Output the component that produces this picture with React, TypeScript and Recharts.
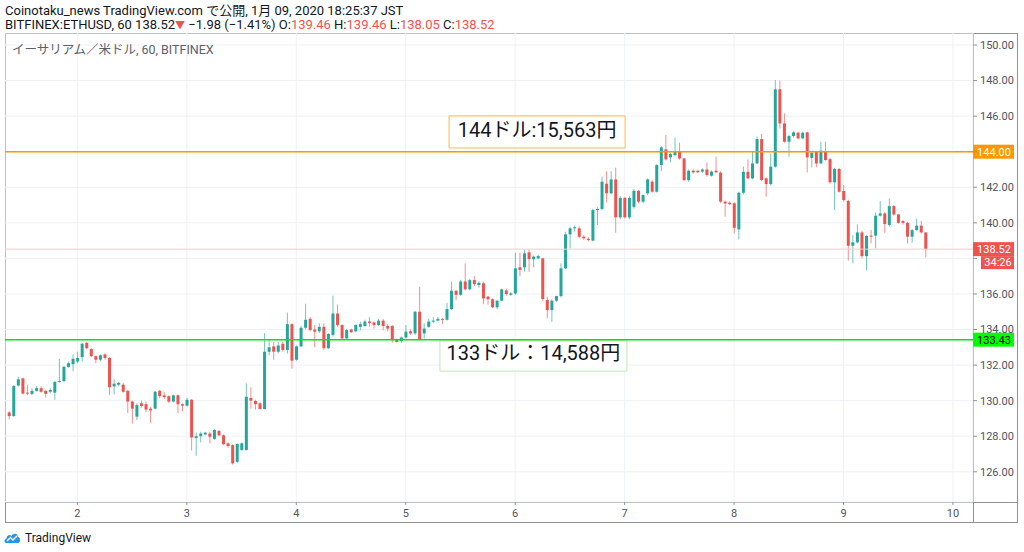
import React from 'react';
import {
  ComposedChart,
  Bar,
  XAxis,
  YAxis,
  CartesianGrid,
  ReferenceLine,
  ReferenceArea,
} from 'recharts';

// hourly ETHUSD candles, index 0 = Jan 1 09:00
const opens = [
  129.34, 129.13, 130.85, 131.25, 130.45, 130.38, 130.55, 130.7, 130.55, 130.5,
  130.45, 131.05, 131.1, 131.9, 132.05, 132.2, 132.45, 133.25, 132.9, 132.5,
  132.3, 132.6, 132.4, 130.8, 130.9, 130.9, 130.55, 129.95, 129.1, 129.85,
  129.8, 129.55, 129.55, 130.55, 130.3, 130.25, 129.95, 130.3, 129.8, 129.72,
  130.05, 127.9, 128.0, 128.1, 128.15, 127.85, 128.3, 128.05, 127.6, 127.5,
  126.56, 127.22, 127.22, 130.15, 129.98, 129.85, 129.53, 132.75, 133.05, 132.75,
  133.2, 132.85, 134.3, 132.3, 133.05, 134.1, 134.6, 134.0, 133.9, 134.15,
  132.95, 133.7, 134.9, 134.25, 133.5, 134.0, 133.9, 134.15, 134.2, 134.45,
  134.4, 134.25, 134.5, 134.2, 134.2, 133.45, 133.35, 133.55, 133.9, 133.78,
  135.0, 133.78, 134.15, 134.45, 134.5, 134.6, 134.55, 135.15, 136.18, 135.95,
  136.7, 136.26, 136.78, 136.5, 136.6, 135.85, 135.7, 135.25, 135.62, 136.2,
  135.95, 136.03, 137.5, 137.5, 138.34, 137.95, 138.0, 138.0, 135.66, 135.09,
  135.62, 135.88, 137.44, 139.35, 139.69, 139.69, 139.22, 139.1, 139.0, 140.72,
  140.78, 142.2, 141.66, 142.44, 140.31, 141.4, 140.31, 140.9, 141.8, 141.19,
  141.66, 142.31, 141.75, 143.25, 144.13, 143.68, 143.81, 144.0, 143.62, 142.4,
  142.93, 142.93, 142.88, 143.0, 142.65, 142.93, 142.82, 141.19, 141.13, 141.1,
  139.63, 141.69, 142.87, 142.5, 143.34, 144.71, 142.5, 142.18, 143.16, 147.51,
  145.59, 144.56, 144.88, 145.07, 144.75, 145.09, 143.65, 143.99, 143.34, 144.0,
  143.58, 142.28, 143.03, 141.79, 141.23, 138.71, 138.9, 139.46, 138.13, 139.28,
  139.28, 140.4, 140.53, 139.88, 140.94, 140.47, 140.1, 140.0, 139.22, 139.59,
  139.84, 139.46,
];
const highs = [
  129.4, 130.88, 131.35, 131.3, 130.9, 130.7, 130.82, 130.8, 130.6, 130.7,
  131.1, 132.35, 131.95, 132.2, 132.6, 132.75, 133.25, 133.3, 132.95, 132.55,
  132.6, 132.65, 132.45, 131.2, 131.05, 131.0, 130.6, 130.0, 129.85, 130.0,
  129.95, 129.65, 130.55, 130.6, 130.5, 130.3, 130.35, 130.35, 129.85, 130.15,
  130.1, 128.2, 128.25, 128.25, 128.25, 128.4, 128.35, 128.1, 127.65, 127.55,
  127.6, 127.65, 130.97, 130.75, 130.05, 129.9, 133.8, 133.4, 133.3, 133.3,
  133.3, 134.95, 134.35, 133.1, 134.2, 135.45, 134.7, 134.25, 134.35, 134.35,
  133.8, 135.9, 135.4, 134.3, 134.05, 134.05, 134.3, 134.45, 134.55, 134.7,
  134.45, 134.6, 134.6, 134.3, 134.25, 133.5, 133.6, 134.25, 134.0, 135.05,
  136.4, 134.35, 134.6, 134.7, 134.7, 134.65, 135.5, 136.7, 136.2, 136.8,
  137.72, 136.85, 137.0, 136.7, 136.7, 135.9, 135.75, 135.65, 136.3, 136.3,
  136.1, 138.32, 138.32, 138.47, 138.5, 138.15, 138.2, 138.05, 135.85, 135.7,
  135.9, 137.72, 139.5, 139.78, 139.85, 139.8, 139.3, 139.2, 140.8, 140.87,
  142.6, 142.9, 142.9, 143.1, 141.5, 141.45, 141.5, 141.9, 141.85, 141.6,
  142.5, 142.4, 143.3, 144.32, 144.94, 143.95, 144.8, 144.5, 143.65, 143.0,
  143.0, 142.98, 143.05, 143.4, 142.95, 143.72, 142.9, 141.25, 141.2, 141.15,
  141.75, 143.16, 143.57, 144.0, 144.84, 144.99, 142.55, 143.9, 148.03, 148.0,
  146.15, 144.95, 145.15, 145.12, 145.12, 145.12, 144.0, 144.05, 144.56, 144.56,
  143.66, 143.1, 143.08, 142.12, 141.3, 139.3, 139.91, 139.55, 139.3, 139.6,
  140.59, 141.23, 140.6, 141.38, 141.0, 140.5, 140.15, 140.05, 139.65, 140.25,
  140.1, 139.46,
];
const lows = [
  128.95, 129.1, 130.8, 130.35, 130.3, 130.3, 130.5, 130.45, 130.17, 130.4,
  130.05, 131.0, 131.05, 131.85, 131.65, 132.1, 132.2, 132.9, 132.45, 132.1,
  132.2, 132.3, 130.3, 130.35, 130.8, 130.45, 129.3, 128.7, 128.9, 129.6,
  129.35, 128.75, 129.5, 130.15, 130.1, 129.85, 129.9, 129.3, 129.4, 129.65,
  127.2, 126.9, 127.65, 128.05, 127.6, 127.8, 128.0, 127.5, 127.35, 126.4,
  126.5, 127.2, 127.2, 129.55, 129.5, 129.5, 129.5, 132.55, 132.3, 132.65,
  132.75, 132.65, 131.8, 132.25, 133.0, 134.0, 133.9, 133.0, 133.8, 132.85,
  132.9, 133.6, 134.15, 133.45, 133.45, 133.8, 133.85, 133.95, 134.15, 134.15,
  134.05, 134.2, 133.95, 133.9, 133.25, 133.25, 133.25, 133.5, 133.7, 133.7,
  133.4, 133.5, 134.1, 134.35, 134.45, 134.3, 134.5, 135.1, 135.65, 135.9,
  136.2, 136.2, 136.45, 136.35, 135.43, 135.4, 135.2, 135.15, 135.6, 135.9,
  135.9, 135.95, 137.0, 137.25, 137.25, 137.5, 137.95, 135.6, 134.63, 134.44,
  135.55, 135.8, 137.4, 138.56, 139.5, 139.15, 139.05, 138.95, 138.95, 139.875,
  140.7, 141.15, 141.6, 139.44, 140.2, 140.25, 140.2, 140.8, 141.1, 141.1,
  141.55, 141.7, 141.7, 142.9, 143.5, 143.4, 143.75, 143.55, 142.35, 142.3,
  142.75, 142.8, 142.8, 142.6, 142.6, 142.8, 141.1, 140.34, 141.0, 139.4,
  139.07, 141.6, 142.45, 142.45, 143.3, 142.35, 141.47, 142.1, 143.1, 145.3,
  144.5, 143.72, 144.8, 144.7, 144.7, 142.84, 143.12, 143.12, 143.3, 143.5,
  142.2, 140.72, 141.7, 141.2, 137.87, 137.72, 138.85, 138.0, 137.34, 138.85,
  138.56, 140.35, 139.44, 139.8, 140.4, 139.95, 139.9, 138.84, 138.88, 139.55,
  139.4, 138.05,
];
const closes = [
  129.13, 130.82, 131.2, 130.4, 130.4, 130.55, 130.7, 130.5, 130.38, 130.6,
  131.05, 131.1, 131.9, 132.1, 132.35, 132.4, 133.2, 132.95, 132.5, 132.3,
  132.55, 132.4, 130.75, 130.95, 131.0, 130.5, 129.95, 129.55, 129.75, 129.7,
  129.5, 129.45, 130.5, 130.25, 130.2, 129.95, 130.3, 129.8, 129.72, 130.05,
  127.93, 128.0, 128.15, 128.2, 127.97, 128.35, 128.05, 127.55, 127.45, 126.47,
  127.56, 127.6, 130.22, 130.0, 129.8, 129.53, 132.75, 133.0, 132.75, 133.1,
  132.85, 134.3, 132.25, 133.05, 134.1, 134.55, 133.97, 133.88, 134.15, 132.95,
  133.75, 134.9, 134.25, 133.5, 133.97, 133.85, 134.25, 134.3, 134.45, 134.37,
  134.25, 134.5, 134.2, 134.05, 133.4, 133.3, 133.55, 133.88, 133.78, 135.0,
  133.45, 134.05, 134.45, 134.5, 134.6, 134.55, 135.15, 136.18, 135.95, 136.7,
  136.26, 136.78, 136.55, 136.63, 135.75, 135.7, 135.25, 135.62, 136.26, 135.99,
  136.03, 137.44, 137.35, 138.28, 137.96, 138.1, 138.13, 135.71, 135.09, 135.62,
  135.88, 137.44, 139.35, 139.69, 139.75, 139.22, 139.13, 139.03, 140.72, 140.78,
  142.31, 141.66, 142.44, 140.31, 141.4, 140.31, 141.4, 141.8, 141.19, 141.56,
  142.44, 141.75, 143.25, 144.24, 143.57, 143.87, 144.0, 143.62, 142.4, 142.93,
  142.84, 142.84, 143.0, 142.69, 142.88, 142.84, 141.19, 141.09, 141.05, 139.72,
  141.69, 142.87, 142.5, 143.34, 144.71, 142.41, 142.18, 143.16, 147.51, 145.59,
  144.56, 144.88, 145.09, 144.75, 145.07, 143.68, 143.94, 143.34, 144.06, 143.53,
  142.28, 143.03, 141.75, 141.28, 138.71, 138.9, 139.46, 138.13, 139.26, 139.22,
  140.4, 140.53, 139.93, 140.94, 140.47, 140.0, 140.0, 139.22, 139.59, 139.84,
  139.46, 138.52,
];

// midnight of each day (candle index) and its label
const dayTicks = [15, 39, 63, 87, 111, 135, 159, 183, 207];
const dayLabels = ['2', '3', '4', '5', '6', '7', '8', '9', '10'];
const priceTicks = [126, 128, 130, 132, 134, 136, 138, 140, 142, 144, 146, 148, 150];

const resistance = 144.0;
const support = 133.43;
const lastPrice = 138.52;
const countdown = '34:26';

// text notes anchored on [candle index, price]
const resistanceNote = { text: '144ドル:15,563円', x1: 96.5, x2: 135.1, y1: 144.21, y2: 146.01 };
const supportNote = { text: '133ドル：14,588円', x1: 94.5, x2: 135.5, y1: 131.66, y2: 133.41 };

const header = {
  line1: 'Coinotaku_news TradingView.com で公開, 1月 09, 2020 18:25:37 JST',
  symbol: 'BITFINEX:ETHUSD, 60 138.52',
  change: '−1.98 (−1.41%)',
  o: '139.46',
  h: '139.46',
  l: '138.05',
  c: '138.52',
};

const UP = '#26a69a';
const DOWN = '#ef5350';
const AXIS = '#8f929a';
const FONT = 'Roboto, "Noto Sans CJK JP", sans-serif';
const X_DOMAIN: [number, number] = [-0.877, 211.4];
const Y_DOMAIN: [number, number] = [124.3, 150.675];

const candles = opens.map((o, i) => ({
  i,
  open: o,
  high: highs[i],
  low: lows[i],
  close: closes[i],
  range: [lows[i], highs[i]],
}));

// price tags on the axis hide the tick labels underneath them
function isCovered(v: number) {
  if (Math.abs(v - resistance) < 0.45) return true;
  if (Math.abs(v - support) < 0.45) return true;
  return v > lastPrice - 1.2 && v < lastPrice + 0.45;
}

function PriceTick(props: any) {
  const { x, y, payload } = props;
  if (isCovered(payload.value)) return null;
  return (
    <text x={x} y={y} dy="0.355em" textAnchor="start" fontSize={11} fill="#50535e" fontFamily={FONT}>
      {payload.value.toFixed(2)}
    </text>
  );
}

function Candle(props: any) {
  const { x, y, width, height, payload } = props;
  if (x == null || y == null) return null;
  const { open, close, high, low } = payload;
  const top = Math.min(y, y + height);
  const span = Math.abs(height);
  const ppu = high === low ? 0 : span / (high - low);
  const yOf = (v: number) => top + (high - v) * ppu;
  const color = close >= open ? UP : DOWN;
  const cx = x + width / 2;
  const bodyTop = yOf(Math.max(open, close));
  const bodyH = Math.max(1, Math.abs(yOf(open) - yOf(close)));
  return (
    <g>
      <line x1={cx} x2={cx} y1={top} y2={top + span} stroke={color} strokeOpacity={0.65} strokeWidth={1} />
      <rect x={x} y={bodyTop} width={width} height={bodyH} fill={color} />
    </g>
  );
}

function PriceTag(props: any) {
  const { viewBox, text, bg, fg, sub } = props;
  if (!viewBox) return null;
  const x = viewBox.x + viewBox.width;
  const y = viewBox.y;
  return (
    <g>
      <rect x={x} y={y - 7} width={41} height={14} fill={bg} />
      <text x={x + 21} y={y} dy="0.35em" textAnchor="middle" fontSize={11} fill={fg} fontFamily={FONT}>
        {text}
      </text>
      {sub && (
        <>
          <rect x={x + 8} y={y + 7} width={33} height={13} fill={bg} />
          <text x={x + 25} y={y + 13.5} dy="0.35em" textAnchor="middle" fontSize={11} fill={fg} fontFamily={FONT}>
            {sub}
          </text>
        </>
      )}
    </g>
  );
}

function NoteText(props: any) {
  const { viewBox, text, lift } = props;
  if (!viewBox) return null;
  return (
    <text
      x={viewBox.x + viewBox.width / 2}
      y={viewBox.y + viewBox.height / 2 - lift}
      dy="0.35em"
      textAnchor="middle"
      fontSize={20}
      fill="#131722"
      fontFamily={FONT}
    >
      {text}
    </text>
  );
}

export default function App() {
  const red = { color: DOWN };
  return (
    <div style={{ position: 'absolute', left: 0, top: 0, width: 1024, height: 552, background: '#fff', fontFamily: FONT, overflow: 'hidden' }}>
      <div style={{ position: 'absolute', left: 5, top: 3, fontSize: 13, color: '#131722', whiteSpace: 'nowrap', lineHeight: '15px' }}>
        {header.line1}
      </div>
      <div style={{ position: 'absolute', left: 5, top: 17, fontSize: 13, color: '#131722', whiteSpace: 'nowrap', lineHeight: '15px' }}>
        {header.symbol}
        <span style={{ color: DOWN, fontSize: 10 }}>▼</span> {header.change} O:<span style={red}>{header.o}</span> H:
        <span style={red}>{header.h}</span> L:<span style={red}>{header.l}</span> C:<span style={red}>{header.c}</span>
      </div>

      {/* frame */}
      <div style={{ position: 'absolute', left: 5, top: 33, width: 1013, height: 490, border: `1px solid ${AXIS}`, boxSizing: 'border-box' }} />
      <div style={{ position: 'absolute', left: 973, top: 33, width: 1, height: 490, background: AXIS }} />
      <div style={{ position: 'absolute', left: 5, top: 502, width: 1013, height: 1, background: AXIS }} />

      <div style={{ position: 'absolute', left: 5, top: 33 }}>
        <ComposedChart width={1013} height={490} data={candles} margin={{ top: 0, right: 0, bottom: 0, left: 0 }}>
          <CartesianGrid stroke="#eef1f6" />
          <XAxis
            type="number"
            dataKey="i"
            domain={X_DOMAIN}
            allowDataOverflow
            ticks={dayTicks}
            interval={0}
            tickFormatter={(v) => dayLabels[dayTicks.indexOf(v)] ?? ''}
            height={21}
            tickSize={3}
            tickMargin={4}
            axisLine={false}
            tickLine={{ stroke: AXIS }}
            tick={{ fontSize: 11, fill: '#50535e', fontFamily: FONT }}
          />
          <YAxis
            orientation="right"
            type="number"
            domain={Y_DOMAIN}
            allowDataOverflow
            ticks={priceTicks}
            interval={0}
            width={45}
            tickSize={4}
            tickMargin={3}
            axisLine={false}
            tickLine={{ stroke: AXIS }}
            tick={(p: any) => <PriceTick {...p} />}
          />
          <ReferenceLine
            y={lastPrice}
            stroke="#f9c9c8"
            strokeWidth={1}
            label={(p: any) => <PriceTag {...p} text={lastPrice.toFixed(2)} sub={countdown} bg={DOWN} fg="#ffffff" />}
          />
          <Bar dataKey="range" barSize={3} shape={<Candle />} isAnimationActive={false} />
          <ReferenceLine
            y={resistance}
            stroke="#ff9800"
            strokeWidth={1.5}
            label={(p: any) => <PriceTag {...p} text={resistance.toFixed(2)} bg="#ff9800" fg="#ffffff" />}
          />
          <ReferenceLine
            y={support}
            stroke="#00e600"
            strokeWidth={1.5}
            label={(p: any) => <PriceTag {...p} text={support.toFixed(2)} bg="#00ff00" fg="#000000" />}
          />
          <ReferenceArea
            x1={resistanceNote.x1}
            x2={resistanceNote.x2}
            y1={resistanceNote.y1}
            y2={resistanceNote.y2}
            fill="#ffffff"
            fillOpacity={1}
            stroke="#ffb74d"
            strokeWidth={1}
            label={(p: any) => <NoteText {...p} text={resistanceNote.text} lift={1.5} />}
          />
          <ReferenceArea
            x1={supportNote.x1}
            x2={supportNote.x2}
            y1={supportNote.y1}
            y2={supportNote.y2}
            fill="#ffffff"
            fillOpacity={1}
            stroke="#bfe8b8"
            strokeWidth={1}
            label={(p: any) => <NoteText {...p} text={supportNote.text} lift={3} />}
          />
        </ComposedChart>
      </div>

      <div style={{ position: 'absolute', left: 12, top: 39, fontSize: 12.5, color: '#5d606b', whiteSpace: 'nowrap' }}>
        イーサリアム／米ドル, 60, BITFINEX
      </div>

      {/* footer logo */}
      <div style={{ position: 'absolute', left: 4, top: 531, display: 'flex', alignItems: 'center', gap: 4 }}>
        <svg width={17} height={12} viewBox="0 0 17 12">
          <path d="M2 11 C0 11 0 7 2.5 6.5 C2.5 3 6 2 7.5 4 C9 0.5 14 1 14 5 C16.5 5 17 11 14 11 Z" fill="#2196f3" />
          <path d="M3 9 L6.5 5.5 L9 8 L13 4" stroke="#ffffff" strokeWidth={1.4} fill="none" />
        </svg>
        <span style={{ fontSize: 12, color: '#131722' }}>TradingView</span>
      </div>
    </div>
  );
}
